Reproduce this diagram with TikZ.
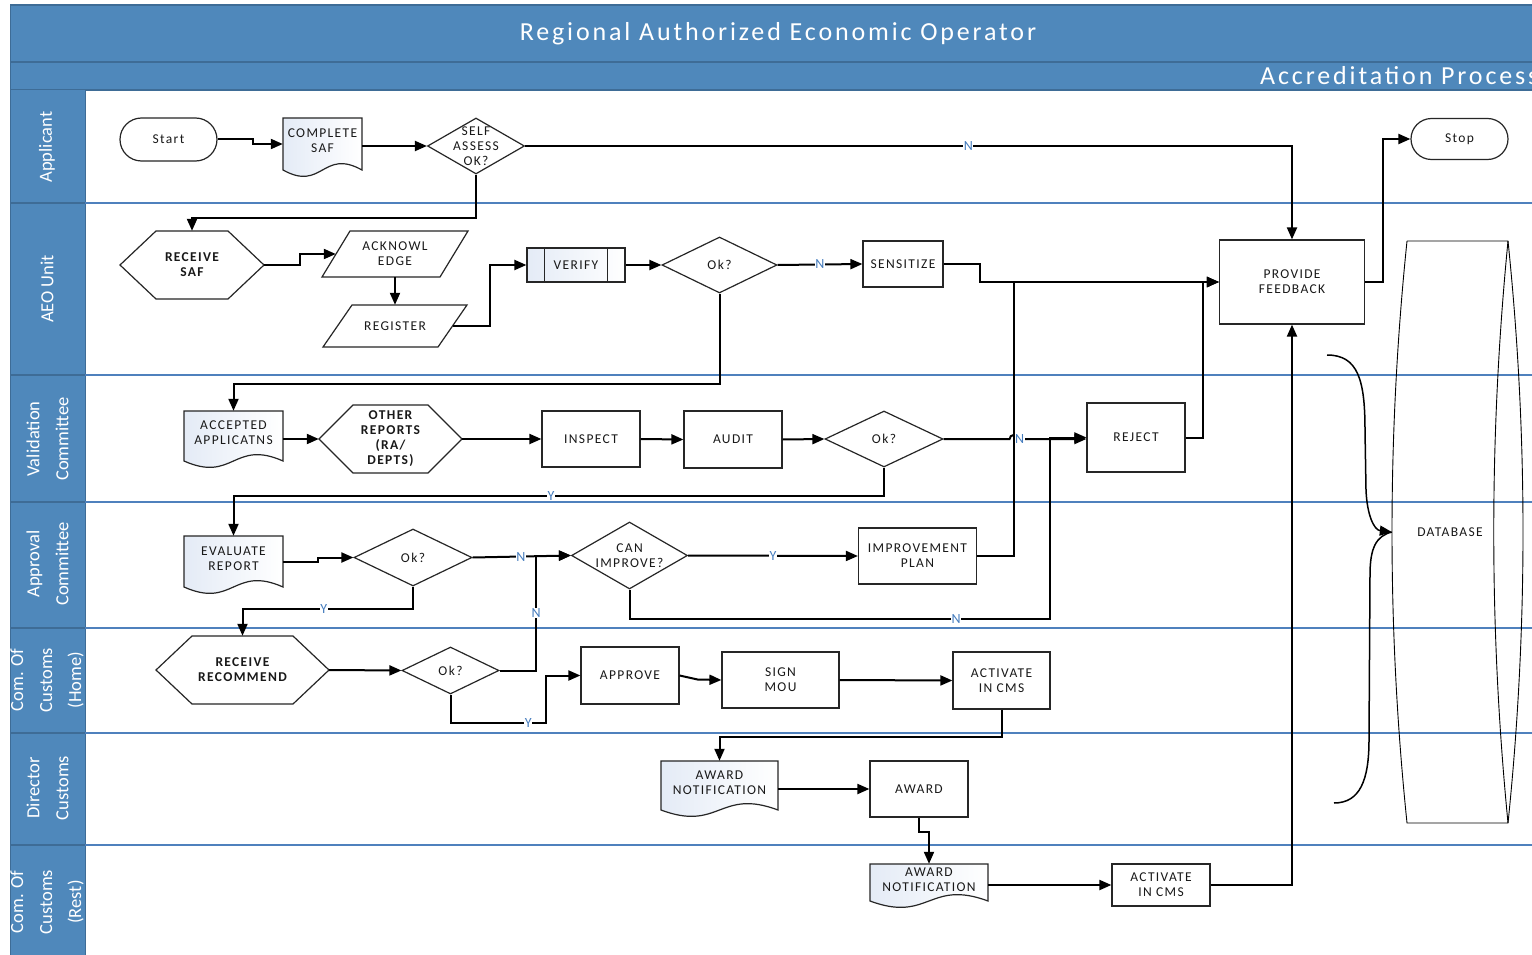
\documentclass[tikz,border=0pt]{standalone}
\usepackage{fontspec}
\setmainfont{Carlito}
\newfontfamily\nodefam[LetterSpace=10]{Carlito}
\newfontfamily\titlefam[LetterSpace=11]{Carlito}
\usetikzlibrary{arrows.meta,shapes.geometric,shapes.misc,calc}
\definecolor{hdr}{RGB}{79,136,187}
\definecolor{hdrdark}{RGB}{62,108,150}
\definecolor{laneline}{RGB}{79,129,189}
\definecolor{labcol}{RGB}{70,125,190}
\definecolor{docblue}{RGB}{228,235,246}
\definecolor{txtc}{RGB}{25,25,25}
\newcommand\nfont{\nodefam\fontsize{13.5}{15}\selectfont}
\tikzset{
 shp/.style={draw=black!85, line width=1.2pt},
 txt/.style={font=\nfont, text=txtc, align=center, inner sep=0pt},
 btxt/.style={font=\nfont\bfseries, text=txtc, align=center, inner sep=0pt},
 procbox/.style={shp, txt, rectangle},
 term/.style={shp, txt, rounded rectangle},
 dia/.style={shp, diamond, inner sep=0pt},
 area/.style={rectangle, inner sep=0pt, draw=none},
 conn/.style={line width=2pt, -{Triangle[length=12pt,width=10pt]}},
 lab/.style={font=\fontsize{14}{15}\selectfont, text=labcol, fill=white, inner sep=0.6pt},
 lanetxt/.style={text=white, font=\fontsize{18.5}{29}\selectfont, rotate=90, align=center, inner sep=0pt},
 docfill/.style={left color=docblue, right color=white},
}
% document shape: name, x1, y1, x2, ybottom, text
\newcommand\docnode[6]{%
 \draw[shp,docfill] (#2,#3) -- (#4,#3) -- (#4,#5) .. controls ({(#2+#4)/2},{#5-22}) and ({(#2+#4)/2},{#5+22}) .. (#2,#5) -- cycle;
 \node[area, minimum width={#4-#2}, minimum height={#5-#3}, label={[txt,yshift=3pt]center:#6}] (#1) at ({(#2+#4)/2},{(#3+#5)/2}) {};
}
% hexagon: name, x1, y1, x2, y2, inset, text
\newcommand\hexnode[7]{%
 \draw[shp] (#2,{(#3+#5)/2}) -- ({#2+#6},#3) -- ({#4-#6},#3) -- (#4,{(#3+#5)/2}) -- ({#4-#6},#5) -- ({#2+#6},#5) -- cycle;
 \node[area, minimum width={#4-#2}, minimum height={#5-#3}, label={[btxt]center:#7}] (#1) at ({(#2+#4)/2},{(#3+#5)/2}) {};
}
% parallelogram: name, x1, y1, x2, y2, slant, text
\newcommand\parnode[7]{%
 \draw[shp] (#2,#5) -- ({#2+#6},#3) -- (#4,#3) -- ({#4-#6},#5) -- cycle;
 \node[area, minimum width={#4-#2}, minimum height={#5-#3}, label={[txt]center:#7}] (#1) at ({(#2+#4)/2},{(#3+#5)/2}) {};
}
\begin{document}
\begin{tikzpicture}[x=1pt,y=-1pt]
\useasboundingbox (0,0) rectangle (1532,955);
\fill[white] (0,0) rectangle (1532,955);
% header
\fill[hdr] (10,5) rectangle (1532,90);
\draw[hdrdark, line width=1.2pt] (10,5) -- (1532,5);
\draw[hdrdark, line width=1.5pt] (10,62) -- (1532,62);
\draw[hdrdark, line width=1.5pt] (10,90) -- (1532,90);
\fill[hdr] (10,90) rectangle (85,955);
\draw[hdrdark, line width=1pt] (85,90) -- (85,955);
\draw[hdrdark, line width=1pt] (10,5) -- (10,955);
\foreach \yy in {203,375,502,628,733,845}{
 \draw[laneline, line width=1.5pt] (85,\yy) -- (1532,\yy);
 \draw[hdrdark, line width=1.5pt] (10,\yy) -- (85,\yy);
}
\node[text=white, font=\titlefam\fontsize{26}{30}\selectfont, inner sep=0pt] (title) at (778,34) {Regional Authorized Economic Operator};
\begin{scope}
\clip (10,62) rectangle (1532,90);
\node[text=white, font=\titlefam\fontsize{26}{30}\selectfont, inner sep=0pt, anchor=west] (subtitle) at (1260,76) {Accreditation Process};
\end{scope}
% lane labels
\node[lanetxt] (l1) at (47,147) {Applicant};
\node[lanetxt] (l2) at (47,289) {AEO Unit};
\node[lanetxt] (l3) at (47.5,439) {Validation\\Committee};
\node[lanetxt] (l4) at (47.5,564) {Approval\\Committee};
\node[lanetxt] (l5) at (47,680) {Com. Of\\Customs\\(Home)};
\node[lanetxt] (l6) at (47.5,788) {Director\\Customs};
\node[lanetxt] (l7) at (47,902) {Com. Of\\Customs\\(Rest)};

% ---------- shapes ----------
\node[term, minimum width=97pt, minimum height=43pt] (start) at (168.5,139.5) {Start};
\docnode{cs}{283}{118}{362}{170}{COMPLETE\\SAF}
\node[dia, minimum width=97pt, minimum height=56pt, label={[txt]center:SELF\\ASSESS\\OK?}] (sa) at (476,146) {};
\hexnode{rsaf}{120}{231}{264}{299}{36}{RECEIVE\\SAF}
\parnode{ack}{322}{231}{468}{277}{28}{ACKNOWL\\EDGE}
\parnode{reg}{323}{305}{467}{347}{29}{REGISTER}
\node[procbox, left color=docblue, right color=white, minimum width=98pt, minimum height=34pt] (ver) at (576,265) {VERIFY};
\draw[shp] ($(ver.north west)+(18,0)$) -- ($(ver.south west)+(18,0)$);
\draw[shp] ($(ver.north east)+(-18,0)$) -- ($(ver.south east)+(-18,0)$);
\node[dia, minimum width=115pt, minimum height=56pt, label={[txt]center:Ok?}] (ok1) at (719.5,265) {};
\node[procbox, minimum width=80pt, minimum height=46pt] (sen) at (903,264) {SENSITIZE};
\node[procbox, minimum width=145pt, minimum height=84pt] (pf) at (1292,282) {PROVIDE\\FEEDBACK};
\node[term, minimum width=97pt, minimum height=41pt] (stop) at (1459.5,139) {Stop};

\docnode{acc}{184}{411}{283}{461}{ACCEPTED\\APPLICATNS}
\hexnode{orp}{319}{405}{462}{473}{34}{OTHER\\REPORTS\\(RA/\\DEPTS)}
\node[procbox, minimum width=98pt, minimum height=56pt] (ins) at (591,439) {INSPECT};
\node[procbox, minimum width=98pt, minimum height=57pt] (aud) at (733,439.5) {AUDIT};
\node[dia, minimum width=118pt, minimum height=56pt, label={[txt]center:Ok?}] (ok2) at (884,439) {};
\node[procbox, minimum width=98pt, minimum height=69pt] (rej) at (1136,437.5) {REJECT};

\docnode{eva}{184}{536}{283}{587}{EVALUATE\\REPORT}
\node[dia, minimum width=118pt, minimum height=57pt, label={[txt]center:Ok?}] (ok3) at (413,557.5) {};
\node[dia, minimum width=116pt, minimum height=67pt, label={[txt]center:CAN\\IMPROVE?}] (can) at (629.5,555.5) {};
\node[procbox, minimum width=118pt, minimum height=56pt] (imp) at (917.5,556) {IMPROVEMENT\\PLAN};

\hexnode{rrec}{156}{636}{329}{704}{36}{RECEIVE\\RECOMMEND}
\node[dia, minimum width=97pt, minimum height=47pt, label={[txt]center:Ok?}] (ok4) at (450.5,670.5) {};
\node[procbox, minimum width=98pt, minimum height=57pt] (app) at (630,675.5) {APPROVE};
\node[procbox, minimum width=117pt, minimum height=56pt] (sign) at (780.5,680) {SIGN\\MOU};
\node[procbox, minimum width=97pt, minimum height=57pt] (act1) at (1001.5,680.5) {ACTIVATE\\IN CMS};

\docnode{awn1}{661}{761}{778}{810}{AWARD\\NOTIFICATION}
\node[procbox, minimum width=98pt, minimum height=56pt] (awd) at (919,789) {AWARD};
\docnode{awn2}{870}{864}{988}{901}{AWARD\\NOTIFICATION}
\node[procbox, minimum width=98pt, minimum height=42pt] (act2) at (1161,885) {ACTIVATE\\IN CMS};

% database
\draw[black, line width=0.9pt] (1407,241) -- (1508,241)
  .. controls (1528,435) and (1528,629) .. (1508,823) -- (1407,823)
  .. controls (1387,629) and (1387,435) .. (1407,241);
\draw[black, line width=0.9pt] (1508,241) .. controls (1489,435) and (1489,629) .. (1508,823);
\node[area, txt, minimum width=116pt, minimum height=582pt] (db) at (1450,532) {DATABASE};

% ---------- connectors ----------
\draw[conn] (start.east) -- ++(35,0) |- (cs.west);
\draw[conn] (cs.east |- sa.west) -- (sa.west);
\draw[conn] (sa.east) -| node[lab, pos=0.289] {N} (pf.north);
\draw[conn] (sa.south) -- ++(0,43) -| (rsaf.north);
\draw[conn] (rsaf.east) -- ++(36,0) |- ($(ack.west)+(14,0)$);
\draw[conn] (ack.south) -- (reg.north);
\draw[conn] ($(reg.east)+(-14.5,0)$) -- ++(37.5,0) |- (ver.west);
\draw[conn] (ver.east) -- (ok1.west);
\draw[conn] (ok1.east) -- node[lab] {N} (sen.west);
\draw[conn] (sen.east) -- ++(36,0) |- (pf.west);
\draw[conn] (ok1.south) -- ++(0,90) -| (acc.north);
\draw[conn] (pf.east) -- ++(18,0) |- (stop.west);

\draw[conn] (acc.east |- orp.west) -- (orp.west);
\draw[conn] (orp.east) -- (ins.west);
\draw[conn] (ins.east) -- (aud.west);
\draw[conn] (aud.east) -- (ok2.west);
\draw[conn] (ok2.east) -- ++(66,0) arc[start angle=180, end angle=360, radius=4] -- node[lab, pos=0.03] {N} (rej.west |- ok2.east);
\draw[conn] (rej.east) -- ++(17,0) |- (pf.west);
\draw[conn] (ok2.south) -- ++(0,28) -| node[lab, pos=0.256] {Y} (eva.north);

\draw[conn] (eva.east) -- ++(35,0) |- (ok3.west);
\draw[conn] (ok3.east) -- node[lab, pos=0.49] {N} (can.west);
\draw[conn] (ok3.south) -- ++(0,22) -| node[lab, pos=0.262] {Y} (rrec.north);
\draw[conn] (can.east) -- node[lab] {Y} (imp.west);
\draw[conn] (imp.east) -- ++(36.5,0) |- (pf.west);
\draw[conn] (can.south) -- ++(0,29) -| node[lab, pos=0.388] {N} ($(rej.west)+(-36,0)$) -- (rej.west);

\draw[conn] (rrec.east) -- (ok4.west);
\draw[conn] (ok4.east) -- ++(36.6,0) |- node[lab, pos=0.25] {N} (can.west);
\draw[conn] (ok4.south) -- ++(0,28) -- node[lab, pos=0.82] {Y} ++(95,0) |- (app.west);
\draw[conn] (app.east) -- ++(18,4) -- (sign.west);
\draw[conn] (sign.east) -- (act1.west);
\draw[conn] (act1.south) -- ++(0,27) -| (awn1.north);

\draw[conn] (awn1.east |- awd.west) -- (awd.west);
\draw[conn] (awd.south) -- ++(0,14) -| (awn2.north);
\draw[conn] (awn2.east |- act2.west) -- (act2.west);
\draw[conn] (act2.east) -| (pf.south);

% brace into database
\coordinate (bracetop) at (1327,355);
\coordinate (bracebot) at (1334,803);
\draw[line width=1.5pt, -{Triangle[length=12pt,width=10pt]}] (bracetop) .. controls (1358,355) and (1365,380) .. (1365,430) -- (1366,490) .. controls (1367,515) and (1374,530) .. (db.west);
\draw[line width=1.5pt] (bracebot) .. controls (1360,803) and (1369,780) .. (1369,740) -- (1370,575) .. controls (1370,548) and (1376,536) .. (db.west);
\end{tikzpicture}
\end{document}
